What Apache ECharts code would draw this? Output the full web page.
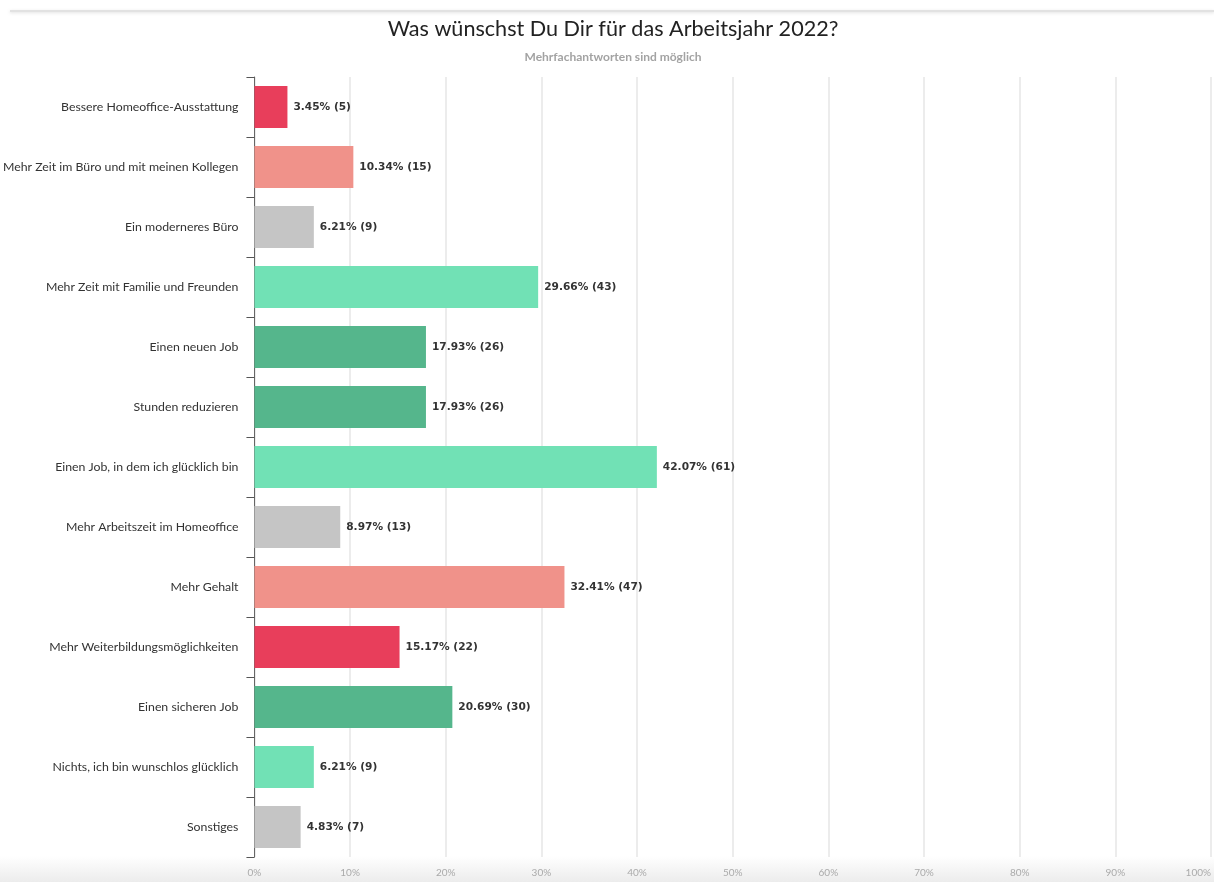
<!DOCTYPE html>
<html>
<head>
<meta charset="utf-8">
<script src="https://cdn.jsdelivr.net/npm/echarts@6/dist/echarts.min.js"></script>
<style>
html,body{margin:0;padding:0;background:#fff;}
#chart{width:1214px;height:882px;}
</style>
</head>
<body>
<div id="chart"></div>
<script>
const categories = [
  'Bessere Homeoffice-Ausstattung',
  'Mehr Zeit im Büro und mit meinen Kollegen',
  'Ein moderneres Büro',
  'Mehr Zeit mit Familie und Freunden',
  'Einen neuen Job',
  'Stunden reduzieren',
  'Einen Job, in dem ich glücklich bin',
  'Mehr Arbeitszeit im Homeoffice',
  'Mehr Gehalt',
  'Mehr Weiterbildungsmöglichkeiten',
  'Einen sicheren Job',
  'Nichts, ich bin wunschlos glücklich',
  'Sonstiges'
];
const percentValues = [3.45, 10.34, 6.21, 29.66, 17.93, 17.93, 42.07, 8.97, 32.41, 15.17, 20.69, 6.21, 4.83];
const counts = [5, 15, 9, 43, 26, 26, 61, 13, 47, 22, 30, 9, 7];
const xTickValues = [0, 10, 20, 30, 40, 50, 60, 70, 80, 90, 100];

const C_RED = '#e83e5b', C_SALMON = '#f0928a', C_GRAY = '#c5c5c5', C_MINT = '#71e1b5', C_GREEN = '#55b68c';
const barColors = [C_RED, C_SALMON, C_GRAY, C_MINT, C_GREEN, C_GREEN, C_MINT, C_GRAY, C_SALMON, C_RED, C_GREEN, C_MINT, C_GRAY];

const chart = echarts.init(document.getElementById('chart'), null, {renderer: 'canvas'});
const FONT = 'Lato, "Noto Sans", sans-serif';

chart.setOption({
  animation: false,
  backgroundColor: '#fff',
  textStyle: {fontFamily: FONT},
  title: {
    text: 'Was wünschst Du Dir für das Arbeitsjahr 2022?',
    subtext: 'Mehrfachantworten sind möglich',
    left: 613,
    textAlign: 'center',
    top: 13,
    padding: [5, 0, 5, 0],
    itemGap: 11,
    textStyle: {fontFamily: FONT, fontSize: 21.6, fontWeight: 'normal', color: '#222'},
    subtextStyle: {fontFamily: FONT, fontSize: 12, fontWeight: 'bold', color: '#a3a3a3'}
  },
  graphic: [
    {
      type: 'rect', silent: true, z: -1,
      shape: {x: 0, y: 856, width: 1214, height: 26},
      style: {fill: new echarts.graphic.LinearGradient(0, 0, 0, 1, [
        {offset: 0, color: 'rgba(255,255,255,1)'},
        {offset: 1, color: 'rgba(236,236,236,1)'}
      ])}
    },
    {
      type: 'rect', silent: true, z: -1,
      shape: {x: 10, y: 10, width: 1204, height: 2},
      style: {fill: '#e2e2e2', shadowBlur: 3, shadowColor: 'rgba(0,0,0,0.12)', shadowOffsetY: 1}
    }
  ],
  grid: {left: 254, right: 2, top: 77, bottom: 25, containLabel: false},
  xAxis: {
    type: 'value',
    min: 0, max: 100, interval: 10,
    axisLine: {show: false},
    axisTick: {show: false},
    splitLine: {show: true, lineStyle: {color: '#e6e6e6', width: 1.5}},
    axisLabel: {
      formatter: v => xTickValues.includes(v) ? v + '%' : '',
      fontFamily: FONT, fontSize: 10, color: '#aaa', margin: 11,
      alignMaxLabel: 'right'
    }
  },
  yAxis: {
    type: 'category',
    data: categories,
    inverse: true,
    axisLine: {show: true, lineStyle: {color: '#666', width: 1}},
    axisTick: {show: true, length: 8, lineStyle: {color: '#555', width: 1}},
    splitLine: {show: false},
    axisLabel: {fontFamily: FONT, fontSize: 12.3, color: '#333', margin: 16}
  },
  series: [{
    type: 'bar',
    data: percentValues.map((v, i) => ({value: v, itemStyle: {color: barColors[i]}})),
    barWidth: 42,
    label: {
      show: true,
      position: 'right',
      distance: 6,
      fontFamily: '"DejaVu Sans", Verdana, sans-serif',
      fontSize: 10.6,
      fontWeight: 'bold',
      color: '#333',
      formatter: p => percentValues[p.dataIndex].toFixed(2) + '% (' + counts[p.dataIndex] + ')'
    }
  }]
});
</script>
</body>
</html>
